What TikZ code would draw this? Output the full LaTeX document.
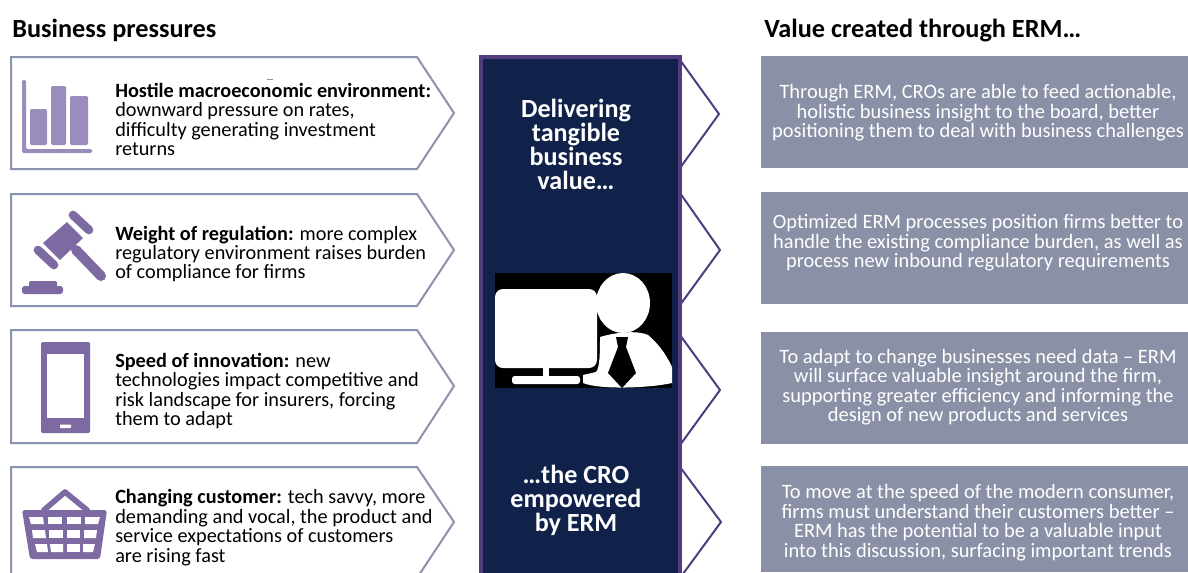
\documentclass[tikz,border=0pt]{standalone}
\usepackage{fontspec}
\setmainfont{Carlito}
\definecolor{edgeblue}{HTML}{8A93AE}
\definecolor{navy}{HTML}{10214A}
\definecolor{purp}{HTML}{513C80}
\definecolor{icon}{HTML}{7D6AA3}
\definecolor{iconl}{HTML}{9A8DBB}
\definecolor{slate}{HTML}{8A90A6}
\newcommand{\lefttxt}{\fontsize{15.2pt}{14.6pt}\selectfont}
\newcommand{\righttxt}{\fontsize{15.33pt}{14.6pt}\selectfont}
\newcommand{\midtxt}{\fontsize{19.6pt}{18pt}\selectfont\bfseries}
\tikzset{
  pent/.style={draw=edgeblue,fill=white,line width=1.5pt,line join=miter},
  chev/.style={draw=purp,line width=1.5pt,line join=miter},
  leftlabel/.style={anchor=west,align=left,inner sep=0pt,text=black,font=\lefttxt},
  rightbox/.style={fill=slate,draw=none},
  rightlabel/.style={anchor=center,align=center,inner sep=0pt,text=white,font=\righttxt},
  midlabel/.style={anchor=center,align=center,inner sep=0pt,text=white,font=\midtxt},
  heading/.style={anchor=base west,inner sep=0pt,font=\fontsize{19.7pt}{20pt}\selectfont\bfseries},
}
\begin{document}
\begin{tikzpicture}[x=0.75pt,y=-0.75pt]
\useasboundingbox (0,0) rectangle (1188,572);
\clip (0,0) rectangle (1188,572);
\fill[white] (0,0) rectangle (1188,572);
% headings
\node[heading] (h1) at (12,37) {Business pressures};
\node[heading] (h2) at (764,37) {Value created through ERM…};
% pentagons
\draw[pent] (11,57) -- (417,57) -- (454,113) -- (417,169) -- (11,169) -- cycle;
\draw[pent] (11,194) -- (417,194) -- (454,250) -- (417,306) -- (11,306) -- cycle;
\draw[pent] (11,330) -- (417,330) -- (454,386) -- (417,443) -- (11,443) -- cycle;
\draw[pent] (11,467) -- (417,467) -- (454,522) -- (417,578) -- (11,578) -- cycle;
\node[leftlabel] (l1) at (115,119.5) {\textbf{Hostile macroeconomic environment:}\\downward pressure on rates,\\difficulty generating investment\\returns};
\node[leftlabel] (l2) at (115,254) {\textbf{Weight of regulation:} more complex\\regulatory environment raises burden\\of compliance for firms};
\node[leftlabel] (l3) at (115,391) {\textbf{Speed of innovation:} new\\technologies impact competitive and\\risk landscape for insurers, forcing\\them to adapt};
\node[leftlabel] (l4) at (115,527.5) {\textbf{Changing customer:} tech savvy, more\\demanding and vocal, the product and\\service expectations of customers\\are rising fast};
% bar icon
\fill[iconl,rounded corners=1pt] (30,109) rectangle (47,145);
\fill[iconl,rounded corners=1pt] (51,86) rectangle (66,145);
\fill[iconl,rounded corners=1pt] (70,96) rectangle (88,145);
\fill[iconl,rounded corners=1pt] (22,80) -- (26,80) -- (26,149) -- (92,149) -- (92,153) -- (22,153) -- cycle;
\draw[edgeblue,line width=0.6pt] (267,79) -- (273,79);
% gavel
\fill[icon] (67,222) -- (83,238) -- (60,260) -- (43,243) -- cycle;
\draw[icon,line width=6.5pt,line cap=round] (73,215) -- (89,230);
\draw[icon,line width=6.5pt,line cap=round] (38,250) -- (54,265);
\draw[icon,line width=7.5pt,line cap=round] (76,250) -- (101,276);
\fill[icon,rounded corners=2pt] (22,286) rectangle (63,294);
\fill[icon,rounded corners=1pt] (29,281) rectangle (57,288);
% phone
\fill[icon,rounded corners=1pt] (41,342) rectangle (90,433);
\fill[white] (47,354) rectangle (84,418);
\fill[white,rounded corners=0.5pt] (60,424.5) rectangle (71,428);
% basket
\draw[icon,line width=4.2pt,line join=round,line cap=round] (44,510) -- (65,492) -- (87,510);
\fill[icon,rounded corners=2pt] (22,510) -- (107,510) -- (100,559) -- (30,559) -- cycle;
\foreach \a/\b/\c/\d in {29/43/31/44,48/62/48/62,67/81/67/81,85/100/85/98}{
  \fill[white] (\a,517) -- (\b,517) -- (\d,524) -- (\c,524) -- cycle;}
\foreach \a/\b/\c/\d in {32/45/33/46,49/63/49/63,67/80/67/80,84/97/84/96}{
  \fill[white] (\a,530) -- (\b,530) -- (\d,538) -- (\c,538) -- cycle;}
\foreach \a/\b/\c/\d in {35/47/37/48,50/63/51/63,67/80/67/80,83/95/83/93}{
  \fill[white] (\a,544) -- (\b,544) -- (\d,552) -- (\c,552) -- cycle;}
% centre column
\draw[fill=navy,draw=purp,line width=2.4pt] (481,57) rectangle (680,590);
\draw[chev] (680,60) -- (719,114) -- (680,168);
\draw[chev] (680,193) -- (720,250) -- (680,305);
\draw[chev] (680,335) -- (720,390) -- (680,445);
\draw[chev] (680,467) -- (721,522) -- (680,578);
\node[midlabel] (m1) at (576,144.5) {Delivering\\tangible\\business\\value…};
\node[midlabel] (m2) at (576,500.5) {…the CRO\\empowered\\by ERM};
% CRO picture
\fill[black] (495,273) rectangle (672,388);
\fill[white,rounded corners=6pt] (495,289) rectangle (597,368);
\fill[white] (543,368) rectangle (549,378);
\fill[white,rounded corners=2pt] (512,376) rectangle (580,384);
\fill[white] (623,303) ellipse [x radius=27,y radius=30];
\fill[white] (600,337) .. controls (620,331) and (640,331) .. (648,335) .. controls (660,345) and (668,358) .. (672,367) -- (672,383) .. controls (650,388) and (600,390) .. (583,383) -- (583,375) -- (596,372) .. controls (600,368) and (600,350) .. (600,337) -- cycle;
\fill[black] (616,337) -- (628,337) -- (626,347) -- (636,373) -- (622,388) -- (608,373) -- (618,347) -- cycle;
% right boxes
\fill[rightbox] (761,56) rectangle (1188,168);
\fill[rightbox] (761,192) rectangle (1188,304);
\fill[rightbox] (761,332) rectangle (1188,444);
\fill[rightbox] (761,466) rectangle (1188,572);
\node[rightlabel] (r1) at (978,113) {Through ERM, CROs are able to feed actionable,\\holistic business insight to the board, better\\positioning them to deal with business challenges};
\node[rightlabel] (r2) at (978,243) {Optimized ERM processes position firms better to\\handle the existing compliance burden, as well as\\process new inbound regulatory requirements};
\node[rightlabel] (r3) at (978,387) {To adapt to change businesses need data – ERM\\will surface valuable insight around the firm,\\supporting greater efficiency and informing the\\design of new products and services};
\node[rightlabel] (r4) at (978,522.5) {To move at the speed of the modern consumer,\\firms must understand their customers better –\\ERM has the potential to be a valuable input\\into this discussion, surfacing important trends};
\end{tikzpicture}
\end{document}
